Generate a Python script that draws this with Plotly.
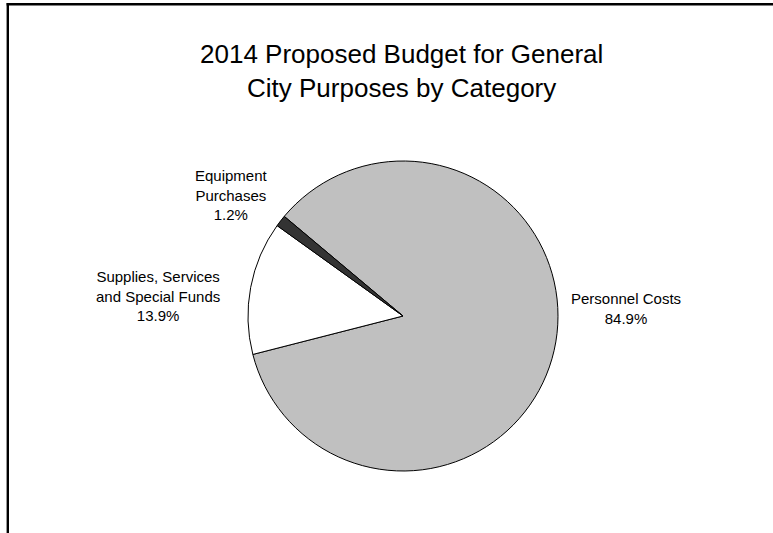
import plotly.graph_objects as go

W, H = 773, 533

# Budget shares by category (percent of total)
categories = ["Personnel Costs", "Supplies, Services<br>and Special Funds", "Equipment<br>Purchases"]
shares = [84.9, 13.9, 1.2]
slice_colors = ["#c0c0c0", "#ffffff", "#333333"]

# Label anchor points (pixel centres) for each category's text
label_xy = [(626, 308), (158, 296), (231, 195)]

# Pie geometry in pixels
cx, cy, r = 403, 316, 155

fig = go.Figure(go.Pie(
    labels=categories,
    values=shares,
    sort=False,
    direction="clockwise",
    rotation=310,
    marker=dict(colors=slice_colors, line=dict(color="#000000", width=1)),
    textinfo="none",
    hoverinfo="label+percent",
    showlegend=False,
    domain=dict(x=[(cx - r) / W, (cx + r) / W], y=[(H - cy - r) / H, (H - cy + r) / H]),
))

annotations = []
for name, val, (lx, ly) in zip(categories, shares, label_xy):
    annotations.append(dict(
        x=lx / W, y=1 - ly / H, xref="paper", yref="paper",
        text=f"{name}<br>{val:.1f}%", showarrow=False,
        xanchor="center", yanchor="middle", align="center",
        font=dict(family="Liberation Sans, Arial, sans-serif", size=15, color="#000000"),
    ))

# Chart title
annotations.append(dict(
    x=401.5 / W, y=1 - 71 / H, xref="paper", yref="paper",
    text="2014 Proposed Budget for General<br>City Purposes by Category",
    showarrow=False, xanchor="center", yanchor="middle", align="center",
    font=dict(family="Liberation Sans, Arial, sans-serif", size=26, color="#000000"),
))

# Frame lines along the left and top edges
frame = [
    dict(type="line", xref="paper", yref="paper", x0=7.8 / W, x1=7.8 / W, y0=0, y1=1 - 3.0 / H,
         line=dict(color="#000000", width=2.4)),
    dict(type="line", xref="paper", yref="paper", x0=6.6 / W, x1=1, y0=1 - 4.2 / H, y1=1 - 4.2 / H,
         line=dict(color="#000000", width=2.4)),
]

fig.update_layout(
    width=W, height=H,
    margin=dict(l=0, r=0, t=0, b=0),
    paper_bgcolor="#ffffff", plot_bgcolor="#ffffff",
    annotations=annotations, shapes=frame,
)

fig.write_html("out.html")
